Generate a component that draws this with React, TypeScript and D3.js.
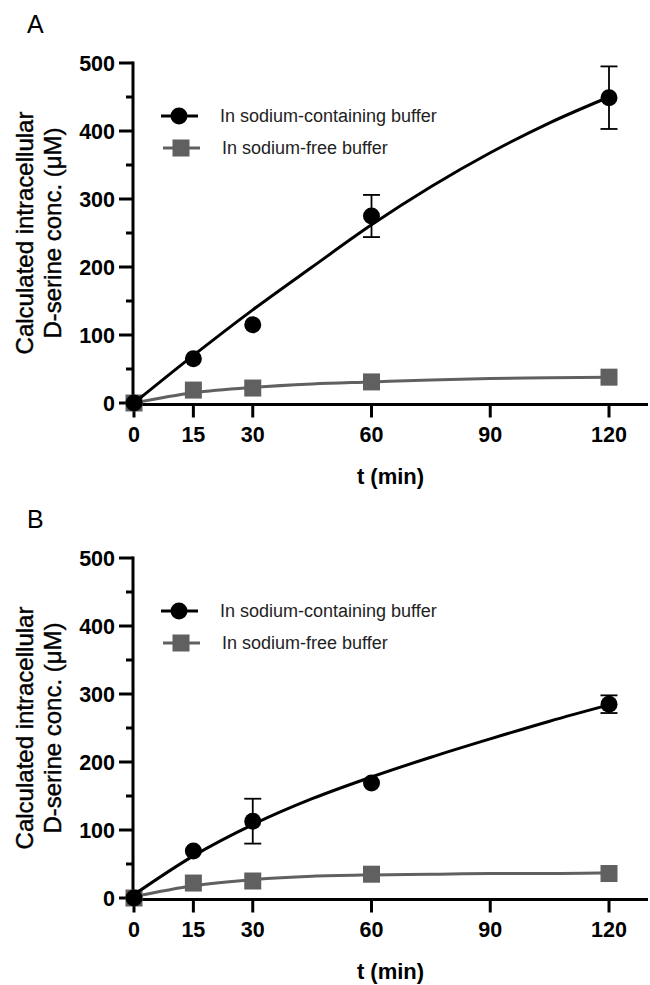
import * as d3 from "d3";

// time points (min)
const times = [0, 15, 30, 60, 120];
const xTicks = [0, 15, 30, 60, 90, 120];
const yTicks = [0, 100, 200, 300, 400, 500];
const yMinorTicks = [50, 150, 250, 350, 450];

// panel A
const naA = [0, 65, 115, 275, 449];
const naErrA = [0, 0, 0, 31, 46];
const freeA = [0, 19, 22, 31, 38];

// panel B
const naB = [0, 69, 113, 169, 285];
const naErrB = [0, 0, 33, 0, 13];
const freeB = [0, 22, 25, 35, 36];

// fitted curves
const fitT = [0, 15, 30, 45, 60, 75, 90, 105, 120];
const naFitA = [0, 70, 137, 200, 262, 318, 368, 412, 450];
const freeFitA = [0, 15, 23, 28, 31, 34, 36, 37, 38];
const naFitB = [5, 62, 108, 146, 178, 207, 234, 260, 284];
const freeFitB = [2, 18, 27, 32, 34, 35, 36, 36, 37];

const legendLabels = ["In sodium-containing buffer", "In sodium-free buffer"];

const BLACK = "#000";
const GREY = "#606060";
const FONT = "'Liberation Sans', Arial, Helvetica, sans-serif";

const x = d3.scaleLinear().domain([0, 120]).range([134, 609]);
const y = d3.scaleLinear().domain([0, 500]).range([403, 63]);

const line = d3
  .line<[number, number]>()
  .x((d) => x(d[0]))
  .y((d) => y(d[1]))
  .curve(d3.curveMonotoneX);

function Panel({ offset, letter, na, naErr, free, naFit, freeFit }) {
  const axisX0 = 133;
  const axisX1 = 648;
  const y0 = y(0) + 1.5;
  const r = 8.5;
  const sq = 17;
  return (
    <g transform={`translate(0,${offset})`}>
      <text x={27} y={33} fontSize={25} fontFamily={FONT}>
        {letter}
      </text>

      {/* axes */}
      <line x1={axisX0} x2={axisX0} y1={y(500) - 1.5} y2={y0} stroke="#000" strokeWidth={3} />
      <line x1={axisX0 - 1.5} x2={axisX1} y1={y0} y2={y0} stroke="#000" strokeWidth={3} />
      {yTicks.map((t) => (
        <g key={"y" + t}>
          <line x1={axisX0 - 14} x2={axisX0} y1={y(t)} y2={y(t)} stroke="#000" strokeWidth={3} />
          <text
            x={axisX0 - 18}
            y={y(t) + 7.5}
            textAnchor="end"
            fontSize={21.5}
            fontWeight="bold"
            fontFamily={FONT}
          >
            {t}
          </text>
        </g>
      ))}
      {yMinorTicks.map((t) => (
        <line key={"m" + t} x1={axisX0 - 7} x2={axisX0} y1={y(t)} y2={y(t)} stroke="#000" strokeWidth={3} />
      ))}
      {xTicks.map((t) => (
        <g key={"x" + t}>
          <line x1={x(t)} x2={x(t)} y1={y0} y2={y0 + 13} stroke="#000" strokeWidth={3} />
          <text
            x={x(t)}
            y={y0 + 37}
            textAnchor="middle"
            fontSize={21.5}
            fontWeight="bold"
            fontFamily={FONT}
          >
            {t}
          </text>
        </g>
      ))}
      <text
        x={(axisX0 + axisX1) / 2}
        y={484}
        textAnchor="middle"
        fontSize={22}
        fontWeight="bold"
        fontFamily={FONT}
      >
        t (min)
      </text>
      <g
        transform="translate(0,233) rotate(-90)"
        fontFamily={FONT}
        fontSize={24}
        textAnchor="middle"
        stroke="#000"
        strokeWidth={0.4}
      >
        <text x={0} y={33}>Calculated intracellular</text>
        <text x={0} y={61}>D-serine conc. (μM)</text>
      </g>

      {/* sodium-free */}
      <path
        d={line(fitT.map((t, i) => [t, freeFit[i]]))}
        fill="none"
        stroke={GREY}
        strokeWidth={3}
      />
      {times.map((t, i) => (
        <rect key={"f" + t} x={x(t) - sq / 2} y={y(free[i]) - sq / 2} width={sq} height={sq} fill={GREY} />
      ))}

      {/* sodium-containing */}
      <path
        d={line(fitT.map((t, i) => [t, naFit[i]]))}
        fill="none"
        stroke={BLACK}
        strokeWidth={3}
      />
      {times.map((t, i) =>
        naErr[i] > 0 ? (
          <g key={"e" + t} stroke="#000" strokeWidth={1.8}>
            <line x1={x(t)} x2={x(t)} y1={y(na[i] + naErr[i])} y2={y(na[i] - naErr[i])} />
            <line x1={x(t) - 8.5} x2={x(t) + 8.5} y1={y(na[i] + naErr[i])} y2={y(na[i] + naErr[i])} />
            <line x1={x(t) - 8.5} x2={x(t) + 8.5} y1={y(na[i] - naErr[i])} y2={y(na[i] - naErr[i])} />
          </g>
        ) : null
      )}
      {times.map((t, i) => (
        <circle key={"n" + t} cx={x(t)} cy={y(na[i])} r={r} fill={BLACK} />
      ))}

      {/* legend */}
      <g fontFamily={FONT} fontSize={18} fill="#222">
        <line x1={161} x2={198} y1={116} y2={116} stroke={BLACK} strokeWidth={3} />
        <circle cx={179} cy={116} r={r} fill={BLACK} />
        <text x={220} y={122}>{legendLabels[0]}</text>
        <line x1={163} x2={200} y1={148} y2={148} stroke={GREY} strokeWidth={3} />
        <rect x={181 - sq / 2} y={148 - sq / 2} width={sq} height={sq} fill={GREY} />
        <text x={222} y={154}>{legendLabels[1]}</text>
      </g>
    </g>
  );
}

export default function App() {
  return (
    <svg
      width={650}
      height={985}
      viewBox="0 0 650 985"
      style={{ position: "absolute", left: 0, top: 0, background: "#fff" }}
    >
      <rect width={650} height={985} fill="#fff" />
      <Panel offset={0} letter="A" na={naA} naErr={naErrA} free={freeA} naFit={naFitA} freeFit={freeFitA} />
      <Panel offset={495} letter="B" na={naB} naErr={naErrB} free={freeB} naFit={naFitB} freeFit={freeFitB} />
    </svg>
  );
}
